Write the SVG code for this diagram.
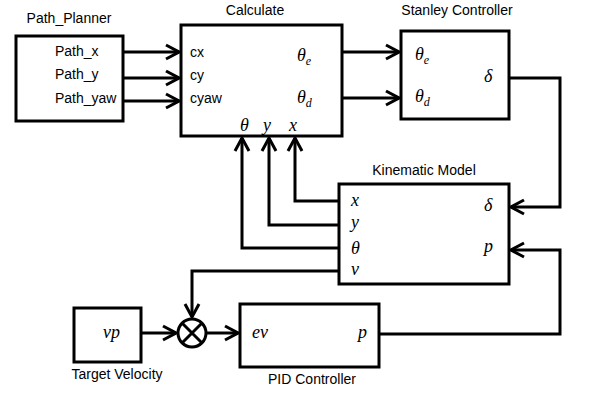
<svg xmlns="http://www.w3.org/2000/svg" width="602" height="404" viewBox="0 0 602 404">
<defs>
<style>
.box{fill:#fff;stroke:#000;stroke-width:3}
.ln{fill:none;stroke:#000;stroke-width:3;stroke-linejoin:miter}
.t{font-family:"Liberation Sans",Arial,sans-serif;font-size:14px;fill:#000}
.m{font-family:"Liberation Serif","Times New Roman",serif;font-style:italic;font-size:18px;fill:#000}
.s{font-size:12px}
</style>
<marker id="ah" viewBox="-15 -9 17 18" markerWidth="17" markerHeight="18" refX="0" refY="0" orient="auto" markerUnits="userSpaceOnUse">
<path d="M-13,-7 L0,0 L-13,7" fill="none" stroke="#000" stroke-width="3"/>
</marker>
</defs>
<rect width="602" height="404" fill="#fff"/>
<g id="connectors">
<path class="ln" d="M123,52 H179" marker-end="url(#ah)"/>
<path class="ln" d="M123,78 H179" marker-end="url(#ah)"/>
<path class="ln" d="M123,101 H179" marker-end="url(#ah)"/>
<path class="ln" d="M343,52 H399" marker-end="url(#ah)"/>
<path class="ln" d="M343,98 H399" marker-end="url(#ah)"/>
<path class="ln" d="M510,78 H560 V207 H511" marker-end="url(#ah)"/>
<path class="ln" d="M338,201 H295 V138" marker-end="url(#ah)"/>
<path class="ln" d="M338,225 H269 V138" marker-end="url(#ah)"/>
<path class="ln" d="M338,248 H242 V138" marker-end="url(#ah)"/>
<path class="ln" d="M338,271 H192 V317" marker-end="url(#ah)"/>
<path class="ln" d="M141,333 H176" marker-end="url(#ah)"/>
<path class="ln" d="M207,333 H238" marker-end="url(#ah)"/>
<path class="ln" d="M380,334 H560 V250 H511" marker-end="url(#ah)"/>
</g>
<g id="path_planner">
<rect class="box" x="16" y="36" width="107" height="85"/>
<text class="t" x="69" y="23" text-anchor="middle">Path_Planner</text>
<text class="t" x="55" y="56">Path_x</text>
<text class="t" x="55" y="79">Path_y</text>
<text class="t" x="55" y="103">Path_yaw</text>
</g>
<g id="calculate">
<rect class="box" x="181" y="25" width="161" height="111"/>
<text class="t" x="255" y="15" text-anchor="middle">Calculate</text>
<text class="t" x="190" y="57">cx</text>
<text class="t" x="190" y="80">cy</text>
<text class="t" x="190" y="103">cyaw</text>
<text class="m" x="297" y="61">θ<tspan class="s" dy="4">e</tspan></text>
<text class="m" x="297" y="103">θ<tspan class="s" dy="4">d</tspan></text>
<text class="m" x="240" y="131">θ</text>
<text class="m" x="263" y="131">y</text>
<text class="m" x="289" y="131">x</text>
</g>
<g id="stanley">
<rect class="box" x="401" y="31" width="108" height="88"/>
<text class="t" x="457" y="15" text-anchor="middle">Stanley Controller</text>
<text class="m" x="415" y="60">θ<tspan class="s" dy="4">e</tspan></text>
<text class="m" x="415" y="102">θ<tspan class="s" dy="4">d</tspan></text>
<text class="m" x="484" y="82">δ</text>
</g>
<g id="kinematic">
<rect class="box" x="339" y="184" width="170" height="100"/>
<text class="t" x="424" y="175" text-anchor="middle">Kinematic Model</text>
<text class="m" x="351" y="206">x</text>
<text class="m" x="351" y="228">y</text>
<text class="m" x="351" y="254">θ</text>
<text class="m" x="351" y="275">v</text>
<text class="m" x="484" y="211">δ</text>
<text class="m" x="484" y="252">p</text>
</g>
<g id="target_velocity">
<rect class="box" x="74" y="308" width="67" height="54"/>
<text class="m" x="103" y="338">vp</text>
<text class="t" x="117" y="379" text-anchor="middle">Target Velocity</text>
</g>
<g id="sum">
<circle cx="192" cy="333" r="14" fill="#fff" stroke="#000" stroke-width="3"/>
<path class="ln" d="M182,323 L202,343 M202,323 L182,343"/>
</g>
<g id="pid">
<rect class="box" x="240" y="304" width="139" height="63"/>
<text class="m" x="252" y="338">ev</text>
<text class="m" x="358" y="338">p</text>
<text class="t" x="312" y="384" text-anchor="middle">PID Controller</text>
</g>
</svg>
